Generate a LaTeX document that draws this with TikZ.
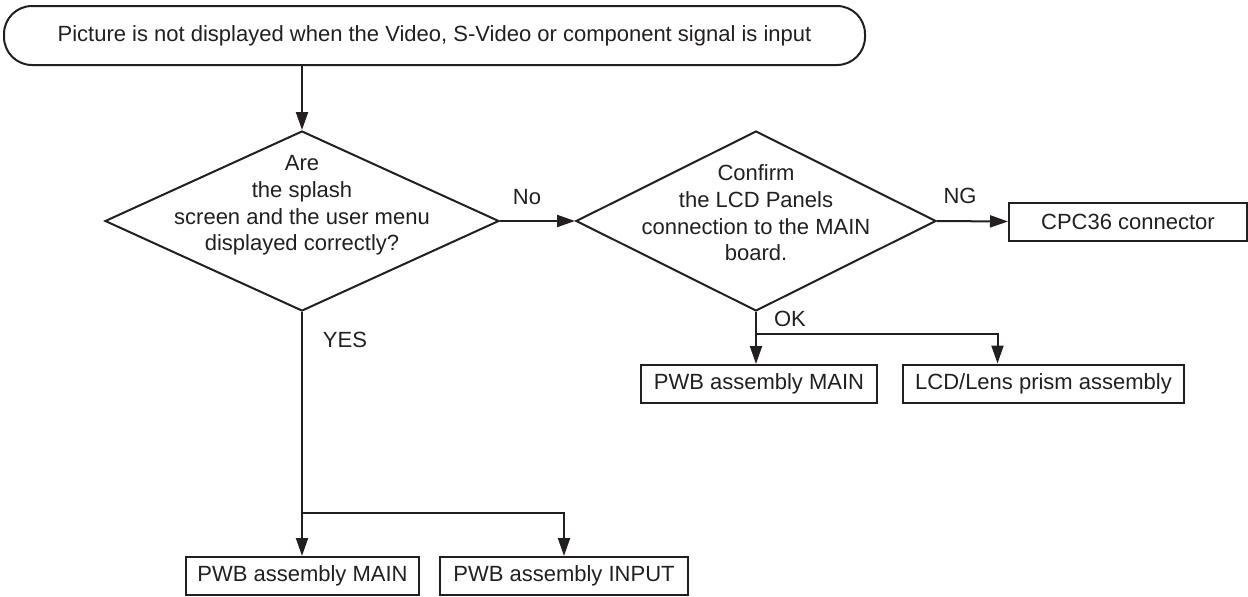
\documentclass[tikz,border=0pt]{standalone}
\usepackage{fontspec}
\setmainfont{Liberation Sans}
\usetikzlibrary{arrows.meta, shapes.geometric}
\definecolor{ink}{RGB}{35,31,32}

\begin{document}
\begin{tikzpicture}[x=0.5pt, y=-0.5pt, >={Triangle[length=9pt, width=6pt]},
    every node/.style={font=\fontsize{11}{13.35}\selectfont, text=ink},
    startbox/.style={draw=ink, line width=1pt, rounded corners=14pt, minimum width=430.5pt, minimum height=29.5pt, inner sep=0pt},
    decision/.style={draw=ink, line width=1pt, diamond, minimum height=90pt, inner sep=0pt},
    partbox/.style={draw=ink, line width=1pt, minimum height=19pt, inner sep=0pt},
    qtext/.style={align=center, inner sep=0pt},
    link/.style={draw=ink, line width=1pt}]
    \useasboundingbox (0,0) rectangle (1248,596);
    \node[startbox] (start) at (434.5,35.5) {Picture is not displayed when the Video, S-Video or component signal is input};
    % questions
    \node[decision, minimum width=197pt,
        label={[qtext, name=q1text, yshift=7.75pt]center:{Are\\the splash\\screen and the user menu\\displayed correctly?}}] (q1) at (302,221) {};
    \node[decision, minimum width=180pt,
        label={[qtext, name=q2text, yshift=4pt]center:{Confirm\\the LCD Panels\\connection to the MAIN\\board.}}] (q2) at (756,221) {};
    % parts to replace
    \node[partbox, minimum width=119pt] (cpc) at (1128,221.5) {CPC36 connector};
    \node[partbox, minimum width=118pt] (main2) at (759,384) {PWB assembly MAIN};
    \node[partbox, minimum width=140.5pt] (lens) at (1043.5,383.5) {LCD/Lens prism assembly};
    \node[partbox, minimum width=116.5pt] (main1) at (302.5,576) {PWB assembly MAIN};
    \node[partbox, minimum width=124pt] (input) at (564,576) {PWB assembly INPUT};
    \coordinate (yesjoin) at (302,513);
    \coordinate (okjoin) at (756,334);
    % connectors
    \draw[link, ->] (q1.north |- start.south) -- (q1.north);
    \draw[link, ->] (q1.east) -- (q2.west);
    \draw[link, ->] (q2.east) -- (cpc.west);
    \draw[link, ->] (q2.south) -- (q2.south |- main2.north);
    \draw[link, ->] (okjoin) -| ([xshift=-23pt]lens.north);
    \draw[link, ->] (q1.south) -- (q1.south |- main1.north);
    \draw[link, ->] (yesjoin) -| (input.north);
    % answers
    \node (no) at (527,197) {No};
    \node (ng) at (960,196) {NG};
    \node (ok) at (790,319) {OK};
    \node (yes) at (345,340) {YES};
\end{tikzpicture}
\end{document}
